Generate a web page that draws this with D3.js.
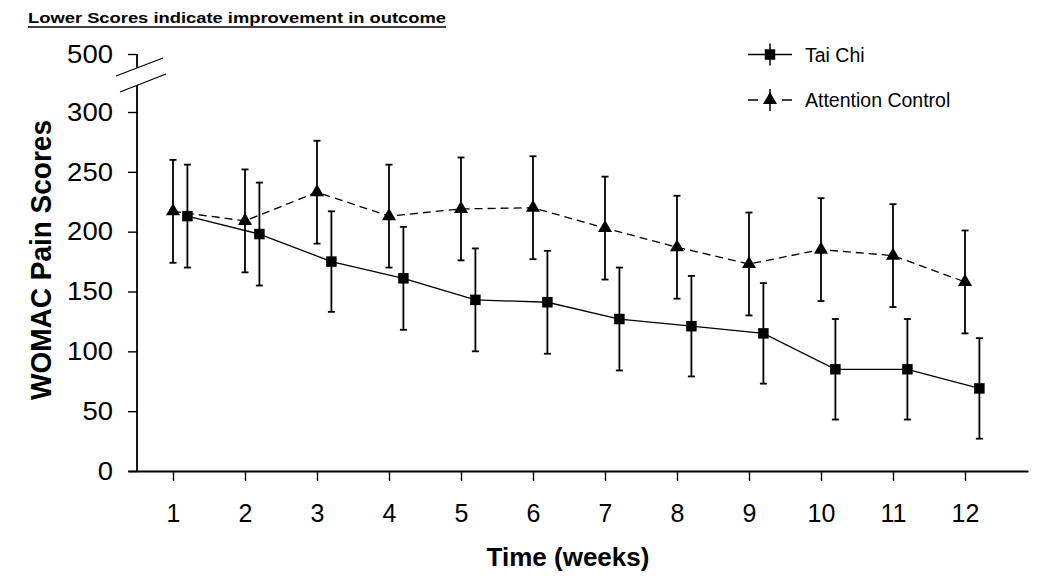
<!DOCTYPE html>
<html>
<head>
<meta charset="utf-8">
<script src="https://cdn.jsdelivr.net/npm/d3@7"></script>
<style>
  html, body { margin: 0; padding: 0; background: #fff; }
  svg { display: block; }
  text { font-family: "Liberation Sans", Arial, sans-serif; fill: #000; }
</style>
</head>
<body>
<svg id="chart" width="1050" height="588"></svg>
<script>
// ---- Data ----
const weeks = [1, 2, 3, 4, 5, 6, 7, 8, 9, 10, 11, 12];
const taiChi = [213, 198, 175, 161, 143, 141, 127, 121, 115, 85, 85, 69];
const taiChiErr = [43, 43, 42, 43, 43, 43, 43, 42, 42, 42, 42, 42];
const control = [217, 209, 233, 213, 219, 220, 203, 187, 173, 185, 180, 158];
const controlErr = [43, 43, 43, 43, 43, 43, 43, 43, 43, 43, 43, 43];
const yTickValues = [0, 50, 100, 150, 200, 250, 300, 500];
const seriesNames = ["Tai Chi", "Attention Control"];
const titleText = "Lower Scores indicate improvement in outcome";
const xTitle = "Time (weeks)";
const yTitle = "WOMAC Pain Scores";

// ---- Layout ----
const svg = d3.select("#chart");
const axisX0 = 128, axisX1 = 1028, axisY = 471, yAxisX = 137;
const x = d3.scaleLinear().domain([0.375, 12.875]).range([axisX0, axisX1]);
// broken axis: 0-300 linear, 300-500 compressed
const y = d3.scaleLinear().domain([0, 300, 500]).range([471, 112, 54]);
const taiOffset = 0.2;

// Title
svg.append("text")
  .attr("x", 28).attr("y", 22.5)
  .attr("font-size", 15).attr("font-weight", "bold")
  .attr("textLength", 418).attr("lengthAdjust", "spacingAndGlyphs")
  .text(titleText);
svg.append("line").attr("x1", 28).attr("x2", 446).attr("y1", 27).attr("y2", 27)
  .attr("stroke", "#000").attr("stroke-width", 1.4);

// X axis
const gx = svg.append("g").attr("transform", `translate(0,${axisY})`)
  .call(d3.axisBottom(x).tickValues(weeks).tickFormat(d3.format("d"))
    .tickSize(10).tickSizeOuter(0).tickPadding(23));
gx.select(".domain").attr("stroke-width", 1.8);
gx.selectAll(".tick line").attr("stroke-width", 1.4);
gx.selectAll(".tick text").attr("font-size", 25).attr("font-family", "Liberation Sans, Arial, sans-serif");

// Y axis
const gy = svg.append("g").attr("transform", `translate(${yAxisX},0)`)
  .call(d3.axisLeft(y).tickValues(yTickValues).tickFormat(d3.format("d"))
    .tickSize(9).tickSizeOuter(0).tickPadding(15));
gy.select(".domain").remove();
gy.selectAll(".tick line").attr("stroke-width", 1.4);
gy.selectAll(".tick text").attr("font-size", 26).attr("font-family", "Liberation Sans, Arial, sans-serif")
  .attr("textLength", d => String(d).length * 15.3).attr("lengthAdjust", "spacingAndGlyphs");

// y axis line with break
svg.append("line").attr("x1", yAxisX).attr("x2", yAxisX)
  .attr("y1", y(0)).attr("y2", 85).attr("stroke", "#000").attr("stroke-width", 1.8);
svg.append("line").attr("x1", yAxisX).attr("x2", yAxisX)
  .attr("y1", 67.5).attr("y2", y(500)).attr("stroke", "#000").attr("stroke-width", 1.8);
svg.append("line").attr("x1", 116).attr("y1", 76).attr("x2", 163).attr("y2", 58)
  .attr("stroke", "#000").attr("stroke-width", 1.3);
svg.append("line").attr("x1", 120).attr("y1", 92).attr("x2", 166).attr("y2", 74)
  .attr("stroke", "#000").attr("stroke-width", 1.3);

// Axis titles
svg.append("text")
  .attr("x", 568).attr("y", 566)
  .attr("text-anchor", "middle")
  .attr("font-size", 26).attr("font-weight", "bold")
  .text(xTitle);
svg.append("text")
  .attr("transform", "translate(51,260) rotate(-90)")
  .attr("text-anchor", "middle")
  .attr("font-size", 29).attr("font-weight", "bold")
  .attr("textLength", 280).attr("lengthAdjust", "spacingAndGlyphs")
  .text(yTitle);

// ---- Series ----
const ctlData = weeks.map((w, i) => ({ w, v: control[i], e: controlErr[i] }));
const taiData = weeks.map((w, i) => ({ w: w + taiOffset, v: taiChi[i], e: taiChiErr[i] }));

const line = d3.line().x(d => x(d.w)).y(d => y(d.v));

svg.append("path").datum(ctlData).attr("d", line)
  .attr("fill", "none").attr("stroke", "#000").attr("stroke-width", 1.3)
  .attr("stroke-dasharray", "8,5");
svg.append("path").datum(taiData).attr("d", line)
  .attr("fill", "none").attr("stroke", "#000").attr("stroke-width", 1.3);

function errorBars(data) {
  const g = svg.append("g").attr("stroke", "#000").attr("stroke-width", 1.8);
  data.forEach(d => {
    const cx = x(d.w);
    g.append("line").attr("x1", cx).attr("x2", cx).attr("y1", y(d.v + d.e)).attr("y2", y(d.v - d.e));
    g.append("line").attr("x1", cx - 3.5).attr("x2", cx + 3.5).attr("y1", y(d.v + d.e)).attr("y2", y(d.v + d.e));
    g.append("line").attr("x1", cx - 3.5).attr("x2", cx + 3.5).attr("y1", y(d.v - d.e)).attr("y2", y(d.v - d.e));
  });
}
errorBars(ctlData);
errorBars(taiData);

const triSym = d3.symbol().type(d3.symbolTriangle).size(85);
const sqSym = d3.symbol().type(d3.symbolSquare).size(110);

svg.append("g").selectAll("path").data(ctlData).join("path")
  .attr("d", triSym).attr("transform", d => `translate(${x(d.w)},${y(d.v)})`)
  .attr("fill", "#000");
svg.append("g").selectAll("path").data(taiData).join("path")
  .attr("d", sqSym).attr("transform", d => `translate(${x(d.w)},${y(d.v)})`)
  .attr("fill", "#000");

// ---- Legend ----
const lg = svg.append("g");
const legendRows = [
  { name: seriesNames[0], y: 54.5, sym: sqSym, dash: null },
  { name: seriesNames[1], y: 100, sym: triSym, dash: "10,24,10" }
];
legendRows.forEach(r => {
  const l = lg.append("line").attr("x1", 748).attr("x2", 792).attr("y1", r.y).attr("y2", r.y)
    .attr("stroke", "#000").attr("stroke-width", 1.5);
  if (r.dash) l.attr("stroke-dasharray", r.dash);
  lg.append("line").attr("x1", 770).attr("x2", 770).attr("y1", r.y - 11).attr("y2", r.y + 11)
    .attr("stroke", "#000").attr("stroke-width", 1.5);
  lg.append("path").attr("d", r.sym).attr("transform", `translate(770,${r.y})`).attr("fill", "#000");
  lg.append("text").attr("x", 805).attr("y", r.y).attr("dy", "0.36em")
    .attr("font-size", 19.5).text(r.name);
});
</script>
</body>
</html>
